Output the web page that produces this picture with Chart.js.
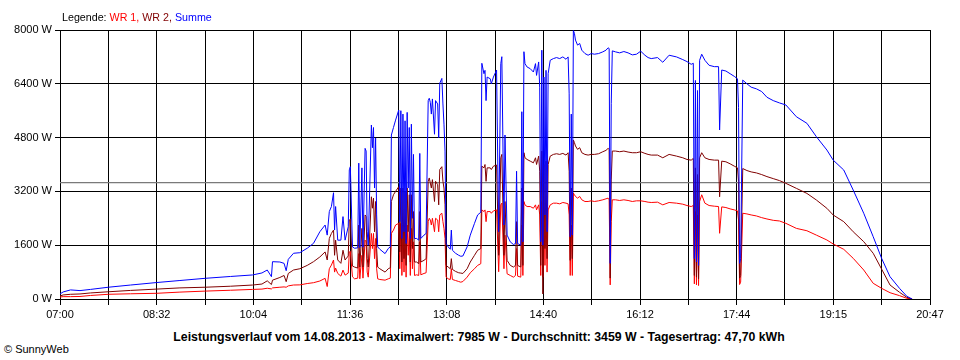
<!DOCTYPE html>
<html lang="de">
<head>
<meta charset="UTF-8">
<title>Leistungsverlauf 14.08.2013</title>
<script src="https://cdn.jsdelivr.net/npm/chart.js@4"></script>
<style>
  body { margin: 0; background: #fff; font-family: "Liberation Sans", Arial, sans-serif; color: #000; }
  #wrap { position: relative; width: 960px; height: 360px; overflow: hidden; }
  #chart { position: absolute; left: 0; top: 0; }
  #legend { position: absolute; left: 62px; top: 10px; font-size: 10.7px; line-height: 14px; white-space: nowrap; }
  #caption { position: absolute; left: 0; width: 958px; top: 330px; text-align: center; font-size: 12.3px; font-weight: bold; white-space: nowrap; }
  #copy { position: absolute; left: 4px; top: 343px; font-size: 11px; white-space: nowrap; }
</style>
</head>
<body>
<div id="wrap">
  <canvas id="chart" width="960" height="326"></canvas>
  <div id="legend">Legende: <span style="color:#ff0000">WR 1,</span> <span style="color:#800000">WR 2,</span> <span style="color:#0000ff">Summe</span></div>
  <div id="caption">Leistungsverlauf vom 14.08.2013 - Maximalwert: 7985 W - Durchschnitt: 3459 W - Tagesertrag: 47,70 kWh</div>
  <div id="copy">&copy; SunnyWeb</div>
</div>
<script>
// time of day (HH:MM), values in W
const times = [
  '07:00','07:03','07:10','07:19','07:29','07:46','08:07','08:32','08:54','09:18',
  '09:42','10:03','10:12','10:17','10:21','10:22','10:29','10:33','10:35','10:37',
  '10:42','10:48','10:55','11:01','11:07','11:12','11:14','11:16','11:18','11:20',
  '11:21','11:22','11:24','11:27','11:29','11:31','11:34','11:35','11:36','11:38',
  '11:40','11:43','11:44','11:45','11:47','11:48','11:50','11:51','11:52','11:53',
  '11:56','11:57','11:58','11:59','12:00','12:01','12:02','12:04','12:09','12:12',
  '12:14','12:15','12:17','12:19','12:22','12:23','12:24','12:25','12:26','12:27',
  '12:28','12:29','12:30','12:31','12:32','12:33','12:34','12:35','12:36','12:37',
  '12:39','12:41','12:42','12:43','12:46','12:48','12:50','12:51','12:52','12:53',
  '12:54','12:56','12:57','12:59','13:00','13:01','13:03','13:04','13:05','13:06',
  '13:07','13:09','13:11','13:12','13:13','13:16','13:19','13:21','13:23','13:27',
  '13:30','13:34','13:37','13:40','13:41','13:43','13:44','13:45','13:46','13:49',
  '13:50','13:52','13:55','13:57','13:59','14:00','14:02','14:03','14:05','14:08',
  '14:11','14:13','14:14','14:15','14:18','14:19','14:20','14:21','14:22','14:24',
  '14:27','14:30','14:32','14:33','14:35','14:36','14:37','14:38','14:39','14:40',
  '14:41','14:42','14:43','14:44','14:46','14:49','14:52','14:55','14:58','15:01',
  '15:03','15:04','15:05','15:06','15:07','15:08','15:09','15:10','15:12','15:14',
  '15:16','15:19','15:22','15:25','15:28','15:32','15:36','15:39','15:41','15:42',
  '15:43','15:44','15:45','15:48','15:52','15:56','16:00','16:04','16:08','16:12',
  '16:16','16:19','16:22','16:28','16:33','16:39','16:46','16:52','16:56','17:00',
  '17:02','17:03','17:04','17:05','17:06','17:07','17:08','17:10','17:13','17:17',
  '17:22','17:26','17:27','17:29','17:33','17:37','17:41','17:44','17:45','17:46',
  '17:47','17:49','17:53','17:57','18:02','18:07','18:12','18:18','18:24','18:30',
  '18:40','18:50','18:59','19:09','19:15','19:25','19:34','19:44','19:53','20:01',
  '20:09','20:18','20:25','20:30'
];

const wr1 = [
  60,70,70,75,105,140,155,170,205,235,
  260,285,295,320,300,330,350,360,350,390,
  416,420,460,485,535,615,370,900,1010,1160,
  800,920,760,680,860,710,770,1400,1420,660,
  600,620,1350,600,1300,620,1750,1700,800,650,
  1950,1500,1950,1200,1800,900,600,580,560,600,
  620,1950,2050,2200,2250,900,2250,700,2200,800,
  2100,650,2200,1300,2000,700,2100,900,1700,700,
  720,700,1700,720,760,780,2300,2400,2350,2200,
  2400,2000,2400,2350,2000,2500,2550,2300,2100,1800,
  650,600,580,900,580,550,520,500,520,650,
  780,900,1000,1050,2650,2600,2650,2300,2600,2600,
  2550,2620,2650,810,2800,2850,900,1900,750,700,
  650,700,1500,680,650,2200,700,2900,2800,2750,
  2750,2700,2800,2650,2800,2500,700,2900,650,2600,
  1000,2700,800,2650,2800,2850,2850,2830,2870,2850,
  2830,2500,700,2200,700,3150,3100,3050,3000,3050,
  2950,2900,2900,2920,2900,2920,2950,2980,3000,2950,
  420,2300,2950,2950,2930,2950,2930,2900,2920,2920,
  2900,2880,2870,2880,2800,2870,2850,2820,2780,2750,
  2780,450,2600,420,2500,400,2900,3100,2850,2780,
  2760,2750,1954,2740,2720,2680,2650,2620,2350,430,
  500,2550,2530,2500,2470,2420,2380,2340,2320,2250,
  2100,2030,1900,1755,1636,1478,1210,862,467,318,
  187,100,20,0
];

const wr2 = [
  90,120,140,150,180,215,255,295,330,350,
  380,415,445,540,430,560,640,700,514,760,
  862,900,1000,1110,1250,1400,1160,1800,1950,2050,
  1300,1750,1160,1060,1450,1160,1280,2350,2380,980,
  950,920,2200,950,2100,950,2500,2450,1200,950,
  3040,2700,3000,2000,2900,1500,950,900,800,900,
  930,2900,3100,3200,3340,1400,3300,1100,3300,1200,
  3200,1000,3300,2000,3100,1100,3100,1500,2600,1100,
  1100,1050,2600,1100,1150,1200,3500,3600,3450,3300,
  3550,2900,3500,3400,2800,3850,3935,3500,3300,2800,
  1000,950,900,1200,880,820,780,770,760,900,
  1100,1300,1450,1500,3950,3900,4000,3500,3900,3900,
  3850,3950,3985,1300,4200,4300,1300,2900,1150,1000,
  950,1000,2300,1000,950,3300,1000,4350,4200,4150,
  4100,4050,4200,4000,4250,3800,1000,4400,150,4000,
  1500,4100,1200,4000,4250,4300,4320,4300,4330,4280,
  4350,3800,1150,3300,1200,4730,4650,4550,4450,4500,
  4350,4300,4280,4300,4300,4320,4380,4420,4480,4450,
  620,3540,4400,4400,4380,4400,4370,4350,4350,4380,
  4330,4300,4280,4280,4200,4300,4250,4200,4150,4130,
  4180,700,3900,650,3700,600,4200,4350,4200,4150,
  4130,4130,3040,4100,4080,4020,3950,3900,3500,620,
  700,3880,3820,3780,3750,3700,3640,3580,3520,3440,
  3290,3140,2944,2697,2498,2300,2000,1705,1360,890,
  416,200,50,0
];

const summe = [
  150,210,270,250,285,350,415,490,550,615,
  670,715,775,862,663,1110,1100,1060,842,1180,
  1360,1377,1510,1656,2000,2200,1900,2600,2750,3160,
  2050,2750,1750,1750,2450,1750,2150,3840,3935,1550,
  1510,1520,4040,1530,3900,1540,4480,4400,2000,1600,
  5175,4500,5100,3300,4790,2500,1550,1480,1350,1500,
  1550,4877,5100,5320,5620,2300,5600,1800,5500,2000,
  5300,1650,5550,3300,5100,1800,5200,2400,4300,1800,
  1800,1750,4330,1800,1900,1950,5900,5970,5850,5500,
  5950,4900,5900,5800,4800,6420,6560,5800,5200,4400,
  1650,1550,1480,2050,1450,1360,1300,1270,1280,1550,
  1900,2250,2500,2580,7010,6700,6800,5900,6600,6550,
  6400,6600,6810,2000,7000,7206,2200,4877,1900,1700,
  1620,1650,3800,1650,1600,5570,1700,7355,7000,6900,
  6850,6750,7000,6650,7050,6300,1700,7400,1600,6600,
  2500,6800,2000,6700,7100,7150,7180,7150,7200,7130,
  7200,6100,1850,5500,1900,7985,7900,7700,7550,7600,
  7400,7300,7250,7300,7280,7300,7350,7400,7470,7450,
  1060,5820,7380,7350,7320,7360,7320,7260,7280,7370,
  7250,7180,7150,7180,7040,7250,7200,7120,7060,6980,
  7010,1200,6500,1100,6200,1000,7100,7280,7100,6950,
  6910,6910,5026,6810,6780,6700,6620,6550,5700,1060,
  1200,6510,6400,6300,6250,6170,6000,5900,5830,5770,
  5420,5225,4827,4430,4130,3836,3240,2550,1853,1210,
  663,318,80,0
];

const durchschnitt = 3459;
const tickLabels = ['07:00','08:32','10:04','11:36','13:08','14:40','16:12','17:44','19:15','20:47'];
const yTicks = [0, 1600, 3200, 4800, 6400, 8000];

// minutes after 07:00
const toMin = s => {
  const [h, m] = s.split(':').map(Number);
  return h * 60 + m - 7 * 60;
};
const span = toMin(tickLabels[tickLabels.length - 1]);
const pts = vals => times.map((t, i) => ({ x: toMin(t), y: vals[i] }));

Chart.defaults.font.family = '"Liberation Sans", Arial, sans-serif';
Chart.defaults.font.size = 11;
Chart.defaults.color = '#000';

new Chart(document.getElementById('chart'), {
  type: 'line',
  data: {
    datasets: [
      { label: 'Summe', data: pts(summe), borderColor: '#0000ff', borderWidth: 1, order: 0 },
      { label: 'WR 2', data: pts(wr2), borderColor: '#800000', borderWidth: 1, order: 1 },
      { label: 'WR 1', data: pts(wr1), borderColor: '#ff0000', borderWidth: 1, order: 2 },
      { label: 'Durchschnitt', data: [{ x: 0, y: durchschnitt }, { x: span, y: durchschnitt }],
        borderColor: '#7a7a7a', borderWidth: 1.2, order: 3 }
    ]
  },
  options: {
    animation: false,
    responsive: false,
    layout: { padding: { top: 30, right: 30, left: 0, bottom: 0 } },
    elements: { point: { radius: 0 }, line: { tension: 0 } },
    plugins: { legend: { display: false }, tooltip: { enabled: false } },
    scales: {
      x: {
        type: 'linear',
        min: 0,
        max: span,
        afterBuildTicks: axis => {
          axis.ticks = [];
          for (let i = 0; i < tickLabels.length * 2 - 1; i++) {
            axis.ticks.push({ value: i * span / (tickLabels.length * 2 - 2) });
          }
        },
        afterFit: axis => { axis.height = 27; },
        grid: { color: '#000', tickLength: 6 },
        border: { color: '#000' },
        ticks: {
          autoSkip: false,
          maxRotation: 0,
          padding: 3,
          callback: (v, i) => (i % 2 ? '' : tickLabels[i / 2])
        }
      },
      y: {
        min: 0,
        max: 8000,
        afterBuildTicks: axis => { axis.ticks = yTicks.map(v => ({ value: v })); },
        afterFit: axis => { axis.width = 60; },
        grid: { color: '#000', tickLength: 5 },
        border: { color: '#000' },
        ticks: { padding: 3, callback: v => v + ' W' }
      }
    }
  }
});
</script>
</body>
</html>
